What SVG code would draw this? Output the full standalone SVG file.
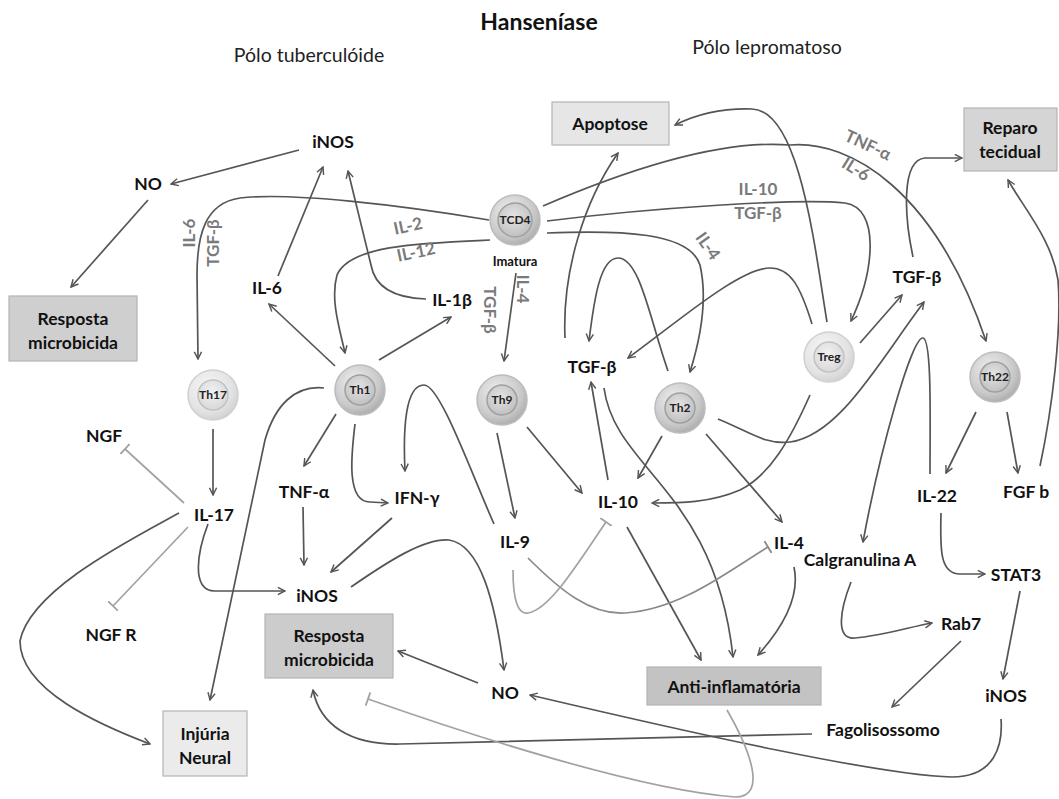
<svg xmlns="http://www.w3.org/2000/svg" width="1059" height="799" viewBox="0 0 1059 799">
<style>
.lb{font-family:Lato,"Liberation Sans","DejaVu Sans",sans-serif;font-weight:bold;font-size:17.5px;fill:#111;text-anchor:middle}
.gl{font-family:Lato,"Liberation Sans","DejaVu Sans",sans-serif;font-weight:bold;font-size:17px;fill:#7a7a7a;text-anchor:middle}
.cl{font-family:Lato,"Liberation Sans","DejaVu Sans",sans-serif;font-weight:bold;font-size:12px;fill:#222;text-anchor:middle}
.hd{font-family:Lato,"Liberation Sans","DejaVu Sans",sans-serif;font-size:19.5px;fill:#222;text-anchor:middle}
.ln{fill:none;stroke:#555;stroke-width:1.7;marker-end:url(#arr)}
.lt{fill:none;stroke:#a2a2a2;stroke-width:1.7;marker-end:url(#tbar)}
.lm{fill:none;stroke:#8a8a8a;stroke-width:1.7;marker-end:url(#tbar2)}
.bx{stroke:#b4b4b4;stroke-width:1.2}
</style>
<defs>
<marker id="arr" viewBox="0 0 10 10" refX="9" refY="5" markerWidth="9" markerHeight="9" markerUnits="userSpaceOnUse" orient="auto">
<path d="M1,1 L9,5 L1,9" fill="none" stroke="#555" stroke-width="1.6"/>
</marker>
<marker id="tbar" viewBox="0 0 4 14" refX="2" refY="7" markerWidth="4" markerHeight="14" markerUnits="userSpaceOnUse" orient="auto">
<path d="M2,0 L2,14" stroke="#a2a2a2" stroke-width="1.8"/>
</marker>
<marker id="tbar2" viewBox="0 0 4 14" refX="2" refY="7" markerWidth="4" markerHeight="14" markerUnits="userSpaceOnUse" orient="auto">
<path d="M2,0 L2,14" stroke="#8a8a8a" stroke-width="1.8"/>
</marker>
<radialGradient id="gD" cx="40%" cy="35%" r="70%">
<stop offset="0" stop-color="#f0f0f0"/><stop offset="0.7" stop-color="#c8c8c8"/><stop offset="1" stop-color="#a9a9a9"/>
</radialGradient>
<radialGradient id="gDi" cx="45%" cy="40%" r="65%">
<stop offset="0" stop-color="#e4e4e4"/><stop offset="1" stop-color="#bdbdbd"/>
</radialGradient>
<radialGradient id="gL" cx="40%" cy="35%" r="70%">
<stop offset="0" stop-color="#f7f7f7"/><stop offset="0.7" stop-color="#e2e2e2"/><stop offset="1" stop-color="#cfcfcf"/>
</radialGradient>
<radialGradient id="gLi" cx="45%" cy="40%" r="65%">
<stop offset="0" stop-color="#f2f2f2"/><stop offset="1" stop-color="#d6d6d6"/>
</radialGradient>
</defs>

<rect width="1059" height="799" fill="#fff"/>

<g id="titles">
<text x="539" y="30" style="font-family:Lato,'Liberation Sans',sans-serif;font-weight:bold;font-size:23px;fill:#111;text-anchor:middle">Hanseníase</text>
<text class="hd" x="309" y="62">Pólo tuberculóide</text>
<text class="hd" x="767" y="54">Pólo lepromatoso</text>
</g>

<g id="connectors">
<path class="ln" d="M299,150 L171,184"/>
<path class="ln" d="M148,200 L71,287"/>
<path class="ln" d="M489,220 C400,205 290,192 240,198 C205,203 197,235 197,275 L198,359"/>
<path class="ln" d="M278,276 L323,167"/>
<path class="ln" d="M426,299 C395,298 375,288 371,265 L348,171"/>
<path class="ln" d="M490,240 C420,243 350,245 337,275 C330,300 340,330 345,353"/>
<path class="ln" d="M335,366 L269,304"/>
<path class="ln" d="M379,360 L451,317"/>
<path class="ln" d="M516,273 L504,361"/>
<path class="ln" d="M543,206 C650,160 730,140 790,145 C850,140 935,190 986,341"/>
<path class="ln" d="M547,221 C650,208 800,198 845,203 C880,208 875,270 851,321"/>
<path class="ln" d="M547,233 C620,230 690,232 700,265 C708,300 700,340 690,372"/>
<path class="ln" d="M668,371 C650,320 640,258 618,258 C600,258 594,300 589,341"/>
<path class="ln" d="M812,324 C800,285 790,268 770,268 C740,268 680,320 628,358"/>
<path class="ln" d="M827,322 C815,250 800,110 752,109 C720,108 695,115 675,125"/>
<path class="ln" d="M565,338 C562,270 585,200 618,153"/>
<path class="ln" d="M860,343 L902,295"/>
<path class="ln" d="M718,419 C750,432 765,445 790,442 C840,435 880,360 924,302"/>
<path class="ln" d="M810,395 C790,440 770,475 740,490 C710,503 680,503 652,503"/>
<path class="ln" d="M913,257 C905,220 900,160 925,158 L962,158"/>
<path class="ln" d="M1040,466 C1052,410 1062,330 1058,280 C1052,240 1025,210 1008,180"/>
<path class="ln" d="M976,412 L946,473"/>
<path class="ln" d="M1007,412 L1018,473"/>
<path class="ln" d="M930,474 C930,420 932,340 923,338 C912,336 880,450 863,542"/>
<path class="ln" d="M941,513 C940,550 940,574 960,574 L985,574"/>
<path class="ln" d="M1020,591 L1003,679"/>
<path class="ln" d="M851,582 C840,610 835,640 855,638 C880,636 910,627 932,623"/>
<path class="ln" d="M961,641 L892,707"/>
<path class="ln" d="M1001,719 C1003,745 995,777 952,777 C880,775 700,735 530,695"/>
<path class="ln" d="M812,734 L400,744 C350,745 320,725 313,690"/>
<path class="lt" d="M727,710 C750,750 768,797 735,797 C640,790 470,735 368,699"/>
<path class="ln" d="M662,436 L638,478"/>
<path class="ln" d="M706,434 L782,522"/>
<path class="ln" d="M608,480 L591,382"/>
<path class="ln" d="M604,388 C615,470 715,490 733,657"/>
<path class="ln" d="M627,527 L701,660"/>
<path class="ln" d="M794,567 C800,595 785,625 758,655"/>
<path class="ln" d="M497,433 L515,518"/>
<path class="ln" d="M527,427 L582,493"/>
<path class="lm" d="M528,558 C560,590 590,615 625,613 C680,610 730,570 768,547"/>
<path class="lt" d="M513,570 C513,600 518,615 528,613 C550,610 580,560 606,522"/>
<path class="ln" d="M494,524 C470,470 440,385 424,385 C405,385 403,430 405,471"/>
<path class="ln" d="M336,414 L304,466"/>
<path class="ln" d="M355,424 C352,450 345,502 370,502 L388,503"/>
<path class="ln" d="M303,507 L304,565"/>
<path class="ln" d="M392,518 L331,572"/>
<path class="ln" d="M351,587 C390,560 425,538 449,540 C480,545 495,600 504,670"/>
<path class="ln" d="M478,683 L398,651"/>
<path class="ln" d="M213,429 L213,495"/>
<path class="ln" d="M208,524 C198,550 190,591 215,591 L285,591"/>
<path class="ln" d="M324,388 C295,385 275,405 265,440 L210,700"/>
<path class="ln" d="M179,513 C130,540 30,590 20,641 C20,690 100,725 150,744"/>
<path class="lt" d="M184,503 L125,449"/>
<path class="lt" d="M188,527 L113,606"/>
</g>

<g id="edge-labels">
<text class="gl" transform="translate(189,233) rotate(-90)" dy="0.35em">IL-6</text>
<text class="gl" transform="translate(213,243) rotate(-90)" dy="0.35em">TGF-β</text>
<text class="gl" transform="translate(408,226) rotate(-12)" dy="0.35em">IL-2</text>
<text class="gl" transform="translate(416,252) rotate(-12)" dy="0.35em">IL-12</text>
<text class="gl" transform="translate(490,310) rotate(90)" dy="0.35em">TGF-β</text>
<text class="gl" transform="translate(523,289) rotate(90)" dy="0.35em">IL-4</text>
<text class="gl" transform="translate(868,145) rotate(25)" dy="0.35em">TNF-α</text>
<text class="gl" transform="translate(856,169) rotate(32)" dy="0.35em">IL-6</text>
<text class="gl" x="758" y="195">IL-10</text>
<text class="gl" x="758" y="219">TGF-β</text>
<text class="gl" transform="translate(708,246) rotate(55)" dy="0.35em">IL-4</text>
</g>

<g id="box-resposta-left"><rect class="bx" x="9" y="296" width="128" height="65" fill="#cfcfcf"/><text class="lb" x="73" y="325">Resposta</text><text class="lb" x="73" y="349">microbicida</text></g>
<g id="box-apoptose"><rect class="bx" x="552" y="102" width="117" height="43" fill="#e6e6e6"/><text class="lb" x="610" y="130">Apoptose</text></g>
<g id="box-reparo"><rect class="bx" x="964" y="108" width="93" height="63" fill="#d5d5d5"/><text class="lb" x="1010" y="134">Reparo</text><text class="lb" x="1010" y="158">tecidual</text></g>
<g id="box-resposta-center"><rect class="bx" x="265" y="614" width="128" height="64" fill="#cccccc"/><text class="lb" x="329" y="642">Resposta</text><text class="lb" x="329" y="666">microbicida</text></g>
<g id="box-injuria"><rect class="bx" x="163" y="711" width="84" height="65" fill="#ebebeb"/><text class="lb" x="205" y="740">Injúria</text><text class="lb" x="205" y="764">Neural</text></g>
<g id="box-anti"><rect class="bx" x="647" y="667" width="174" height="38" fill="#c3c3c3"/><text class="lb" x="734" y="693">Anti-inflamatória</text></g>

<g id="cell-tcd4"><circle cx="515" cy="220" r="25" fill="url(#gD)" stroke="#bcbcbc" stroke-width="1.5"/><circle cx="515" cy="220" r="17" fill="url(#gDi)" stroke="#a0a0a0" stroke-width="1.5"/><text class="cl" x="515" y="224">TCD4</text><text class="lb" x="515" y="266" style="font-size:13px">Imatura</text></g>
<g id="cell-th17"><circle cx="213" cy="395" r="25" fill="url(#gL)" stroke="#d0d0d0" stroke-width="1.5"/><circle cx="213" cy="395" r="15" fill="url(#gLi)" stroke="#c2c2c2" stroke-width="1.5"/><text class="cl" x="213" y="399">Th17</text></g>
<g id="cell-th1"><circle cx="360" cy="390" r="25" fill="url(#gD)" stroke="#bcbcbc" stroke-width="1.5"/><circle cx="360" cy="390" r="15" fill="url(#gDi)" stroke="#a0a0a0" stroke-width="1.5"/><text class="cl" x="360" y="394">Th1</text></g>
<g id="cell-th9"><circle cx="502" cy="400" r="25" fill="url(#gD)" stroke="#bcbcbc" stroke-width="1.5"/><circle cx="502" cy="400" r="15" fill="url(#gDi)" stroke="#a0a0a0" stroke-width="1.5"/><text class="cl" x="502" y="404">Th9</text></g>
<g id="cell-th2"><circle cx="680" cy="408" r="25" fill="url(#gD)" stroke="#bcbcbc" stroke-width="1.5"/><circle cx="680" cy="408" r="15" fill="url(#gDi)" stroke="#a0a0a0" stroke-width="1.5"/><text class="cl" x="680" y="412">Th2</text></g>
<g id="cell-treg"><circle cx="829" cy="357" r="25" fill="url(#gL)" stroke="#d0d0d0" stroke-width="1.5"/><circle cx="829" cy="357" r="15" fill="url(#gLi)" stroke="#c2c2c2" stroke-width="1.5"/><text class="cl" x="829" y="361">Treg</text></g>
<g id="cell-th22"><circle cx="995" cy="377" r="25" fill="url(#gD)" stroke="#bcbcbc" stroke-width="1.5"/><circle cx="995" cy="377" r="15" fill="url(#gDi)" stroke="#a0a0a0" stroke-width="1.5"/><text class="cl" x="995" y="381">Th22</text></g>

<g id="n-inos-top"><text class="lb" x="333" y="148">iNOS</text></g>
<g id="n-no-top"><text class="lb" x="148" y="190">NO</text></g>
<g id="n-il6"><text class="lb" x="267" y="294">IL-6</text></g>
<g id="n-il1b"><text class="lb" x="452" y="306">IL-1β</text></g>
<g id="n-ngf"><text class="lb" x="104" y="442">NGF</text></g>
<g id="n-il17"><text class="lb" x="214" y="521">IL-17</text></g>
<g id="n-tnfa"><text class="lb" x="304" y="498">TNF-α</text></g>
<g id="n-ifng"><text class="lb" x="417" y="504">IFN-γ</text></g>
<g id="n-inos-center"><text class="lb" x="317" y="602">iNOS</text></g>
<g id="n-ngfr"><text class="lb" x="111" y="641">NGF R</text></g>
<g id="n-no-bottom"><text class="lb" x="505" y="699">NO</text></g>
<g id="n-il9"><text class="lb" x="515" y="548">IL-9</text></g>
<g id="n-il10"><text class="lb" x="618" y="508">IL-10</text></g>
<g id="n-il4"><text class="lb" x="789" y="549">IL-4</text></g>
<g id="n-tgfb-left"><text class="lb" x="592" y="373">TGF-β</text></g>
<g id="n-tgfb-right"><text class="lb" x="917" y="283">TGF-β</text></g>
<g id="n-il22"><text class="lb" x="937" y="502">IL-22</text></g>
<g id="n-fgfb"><text class="lb" x="1026" y="498">FGF b</text></g>
<g id="n-calgranulina"><text class="lb" x="860" y="566">Calgranulina A</text></g>
<g id="n-stat3"><text class="lb" x="1016" y="581">STAT3</text></g>
<g id="n-rab7"><text class="lb" x="961" y="630">Rab7</text></g>
<g id="n-inos-right"><text class="lb" x="1006" y="702">iNOS</text></g>
<g id="n-fagolisossomo"><text class="lb" x="883" y="736">Fagolisossomo</text></g>
</svg>
